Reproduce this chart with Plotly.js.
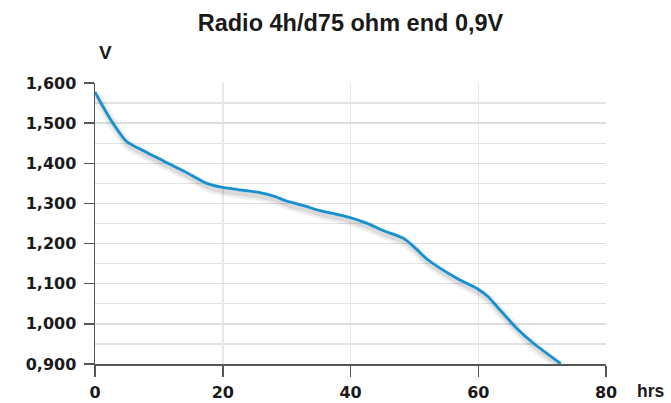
<!DOCTYPE html>
<html>
<head>
<meta charset="utf-8">
<script src="https://cdn.plot.ly/plotly-3.0.1.min.js"></script>
<style>
  html, body { margin: 0; padding: 0; background: #fff; }
  #chart { width: 671px; height: 403px; }
</style>
</head>
<body>
<div id="chart"></div>
<script>
// Discharge curve: hours vs voltage
const hours = [0, 1.25, 2.8, 4.9, 7.5, 10.7, 14.2, 17.5, 19.6, 22.5, 25.8, 28.0, 30.0, 32.8, 35.2, 37.3, 39.9, 42.5, 45.2, 48.3, 50.2, 52.0, 56.7, 59.8, 61.5, 63.0, 66.1, 68.7, 72.9];
const volts = [1.578, 1.541, 1.500, 1.455, 1.432, 1.406, 1.378, 1.350, 1.341, 1.334, 1.327, 1.318, 1.306, 1.294, 1.282, 1.275, 1.265, 1.251, 1.232, 1.213, 1.188, 1.161, 1.113, 1.088, 1.068, 1.042, 0.988, 0.951, 0.901];

const yTickVals = [0.9, 1.0, 1.1, 1.2, 1.3, 1.4, 1.5, 1.6];
const yTickText = ["0,900", "1,000", "1,100", "1,200", "1,300", "1,400", "1,500", "1,600"];
const yMinorVals = [0.95, 1.05, 1.15, 1.25, 1.35, 1.45, 1.55];
const xTickVals = [0, 20, 40, 60, 80];
const xTickText = ["0", "20", "40", "60", "80"];

const titleText = "Radio 4h/d75 ohm end 0,9V";
const yUnit = "V";
const xUnit = "hrs";

const tickFont = { family: "DejaVu Sans", size: 16, color: "#1a1a1a", weight: "bold" };
const lineShape = { shape: "spline", smoothing: 0.8 };

// soft shadow layers (same data, styled only)
const shadowOuter = {
  x: hours, y: volts, type: "scatter", mode: "lines",
  line: Object.assign({ color: "rgba(0,0,0,0.06)", width: 10 }, lineShape),
  hoverinfo: "skip"
};
const shadowInner = {
  x: hours, y: volts, type: "scatter", mode: "lines",
  line: Object.assign({ color: "rgba(0,0,0,0.09)", width: 5 }, lineShape),
  hoverinfo: "skip"
};
const trace = {
  x: hours, y: volts, type: "scatter", mode: "lines",
  line: Object.assign({ color: "#1591d2", width: 2.8 }, lineShape),
  hoverinfo: "skip"
};

const layout = {
  width: 671,
  height: 403,
  margin: { l: 95, r: 65, t: 83, b: 39 },
  paper_bgcolor: "#ffffff",
  plot_bgcolor: "#ffffff",
  showlegend: false,
  title: {
    text: "<b>" + titleText + "</b>",
    font: { family: "Liberation Sans", size: 23.5, color: "#1a1a1a" },
    xref: "paper", x: 0.5, xanchor: "center",
    yref: "container", y: 1 - 23 / 403, yanchor: "middle"
  },
  xaxis: {
    range: [0, 80],
    tickmode: "array",
    tickvals: xTickVals,
    ticktext: xTickText,
    ticks: "outside",
    ticklen: 11,
    tickwidth: 1.5,
    tickcolor: "#555",
    showline: true,
    linecolor: "#555",
    linewidth: 1.5,
    showgrid: true,
    gridcolor: "#e8e8e8",
    gridwidth: 1.5,
    zeroline: false,
    tickfont: tickFont,
    ticklabelstandoff: 2,
    fixedrange: true
  },
  yaxis: {
    range: [0.9, 1.6],
    tickmode: "array",
    tickvals: yTickVals,
    ticktext: yTickText,
    ticks: "outside",
    ticklen: 10,
    tickwidth: 1.5,
    tickcolor: "#555",
    showline: true,
    linecolor: "#555",
    linewidth: 1.5,
    showgrid: true,
    gridcolor: "#dedede",
    gridwidth: 1.5,
    zeroline: false,
    tickfont: tickFont,
    ticklabelstandoff: 4,
    minor: {
      tickmode: "array",
      tickvals: yMinorVals,
      showgrid: true,
      gridcolor: "#e2e2e2",
      gridwidth: 1.3,
      ticks: ""
    },
    fixedrange: true
  },
  annotations: [
    {
      text: "<b>" + yUnit + "</b>",
      xref: "paper", yref: "paper",
      x: (105.5 - 95) / 511, y: 1 + 31 / 281,
      xanchor: "center", yanchor: "middle",
      showarrow: false,
      font: { family: "Liberation Sans", size: 19, color: "#1a1a1a" }
    },
    {
      text: "<b>" + xUnit + "</b>",
      xref: "paper", yref: "paper",
      x: (650.5 - 95) / 511, y: -(391 - 364) / 281,
      xanchor: "center", yanchor: "middle",
      showarrow: false,
      font: { family: "Liberation Sans", size: 17.5, color: "#1a1a1a" }
    }
  ]
};

Plotly.newPlot("chart", [shadowOuter, shadowInner, trace], layout, { displayModeBar: false, staticPlot: true }).then(function (gd) {
  const groups = gd.querySelectorAll(".scatterlayer .trace");
  for (let i = 0; i < 2 && i < groups.length; i++) {
    groups[i].setAttribute("transform", "translate(2,4)");
  }
});
</script>
</body>
</html>
